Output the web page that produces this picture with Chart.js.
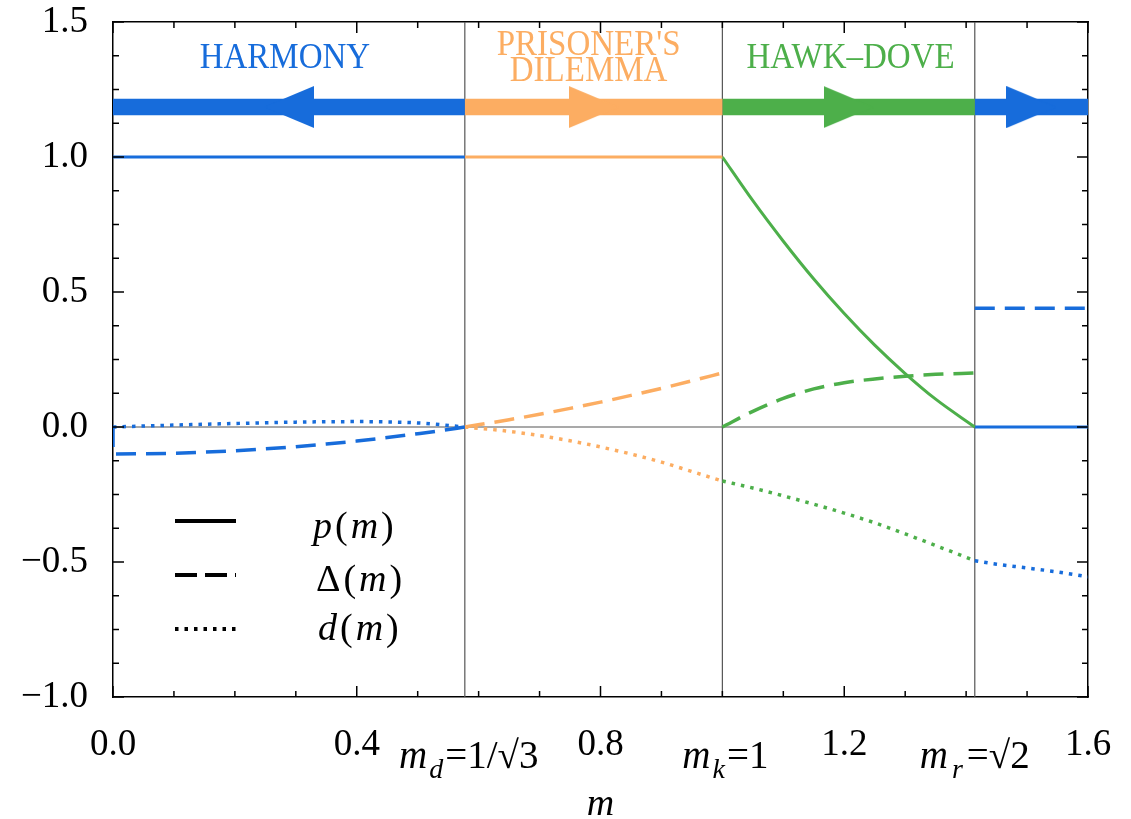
<!DOCTYPE html>
<html><head><meta charset="utf-8">
<script src="https://cdn.jsdelivr.net/npm/chart.js@4.4.1/dist/chart.umd.min.js"></script>
<style>html,body{margin:0;padding:0;background:#fff;}canvas{display:block;}</style>
</head><body>
<canvas id="c" width="1131" height="819" style="width:1131px;height:819px"></canvas>
<script>
const BLUE = '#176CDB', ORANGE = '#FCAD62', GREEN = '#4DAF4A';
const FONT = '"Liberation Serif", "Times New Roman", serif';

// special points on the m axis
const M_D = 0.57735, M_K = 1, M_R = 1.41421;

// tick labels
const xTickValues = [0, 0.4, 0.8, 1.2, 1.6];
const yTickValues = [-1, -0.5, 0, 0.5, 1, 1.5];

// region bands (arrows row)
const bandEdges = [0, M_D, M_K, M_R, 1.6];
const bandColors = [BLUE, ORANGE, GREEN, BLUE];
const bandY = 1.185;
const arrowX = [0.289, 0.789, 1.207, 1.507];
const arrowDir = [-1, 1, 1, 1];

// HARMONY (0 .. m_d)
const harmPX = [0, M_D];
const harmP = [1, 1];
const harmDeltaX = [0, 0, 0.05, 0.1, 0.15, 0.2, 0.25, 0.3, 0.35, 0.4, 0.45, 0.5, 0.54, M_D];
const harmDelta = [0, -0.1, -0.099, -0.097, -0.093, -0.088, -0.081, -0.073, -0.063, -0.052, -0.039, -0.025, -0.013, 0];
const harmDX = [0, 0.1, 0.2, 0.3, 0.4, 0.5, M_D];
const harmD = [0, 0.007, 0.013, 0.018, 0.02, 0.015, 0];

// PRISONER'S DILEMMA (m_d .. 1)
const pdX = [M_D, 0.65, 0.7, 0.75, 0.8, 0.85, 0.9, 0.95, 1.0];
const pdP = [1, 1, 1, 1, 1, 1, 1, 1, 1];
const pdDelta = [0, 0.027, 0.047, 0.069, 0.092, 0.117, 0.143, 0.171, 0.2];
const pdD = [0, -0.016, -0.032, -0.051, -0.074, -0.1, -0.13, -0.165, -0.2];

// HAWK-DOVE (1 .. m_r)
const hdX = [1, 1.05, 1.1, 1.15, 1.2, 1.25, 1.3, 1.35, M_R];
const hdP = [1, 0.838, 0.688, 0.548, 0.42, 0.303, 0.198, 0.103, 0];
const hdDelta = [0, 0.058, 0.106, 0.141, 0.164, 0.178, 0.188, 0.195, 0.2];
const hdD = [-0.2, -0.226, -0.255, -0.286, -0.319, -0.355, -0.396, -0.439, -0.495];

// beyond m_r
const hiX = [M_R, 1.45, 1.5, 1.55, 1.6];
const hiP = [0, 0, 0, 0, 0];
const hiDelta = [0.44, 0.44, 0.44, 0.44, 0.44];
const hiD = [-0.495, -0.508, -0.522, -0.537, -0.555];

const zip = (xs, ys) => xs.map((x, i) => ({x, y: ys[i]}));

function tri(color) {
  const c = document.createElement('canvas');
  c.width = 50; c.height = 42;
  const g = c.getContext('2d');
  g.fillStyle = color;
  g.beginPath(); g.moveTo(0, 0); g.lineTo(50, 21); g.lineTo(0, 42); g.closePath(); g.fill();
  return c;
}

const DASH = [20, 10], DOT = [3.5, 6];
function solid(data, color) { return {data, borderColor: color, borderWidth: 3, pointRadius: 0, fill: false, tension: 0.3}; }
function dashed(data, color) { return {data, borderColor: color, borderWidth: 3.5, borderDash: DASH, borderCapStyle: 'butt', pointRadius: 0, fill: false, tension: 0.3}; }
function dotted(data, color) { return {data, borderColor: color, borderWidth: 3.5, borderDash: DOT, borderCapStyle: 'butt', pointRadius: 0, fill: false, tension: 0.3}; }

function drawParts(ctx, parts, x, baseline, align, gap, size) {
  gap = gap || 0; size = size || 37;
  let w = 0;
  parts.forEach((p, i) => { ctx.font = (p.it ? 'italic ' : '') + (p.s || size) + 'px ' + FONT; p.w = ctx.measureText(p.t).width + (i < parts.length - 1 ? gap : 0); w += p.w; });
  let cx = align === 'center' ? x - w / 2 : x;
  ctx.textAlign = 'left'; ctx.textBaseline = 'alphabetic';
  parts.forEach(p => { ctx.font = (p.it ? 'italic ' : '') + (p.s || size) + 'px ' + FONT; ctx.fillText(p.t, cx, baseline + (p.dy || 0)); cx += p.w; });
}

function stretchedText(ctx, text, cx, baseline, sy) {
  ctx.save();
  ctx.translate(cx, baseline);
  ctx.scale(1, sy);
  ctx.fillText(text, 0, 0);
  ctx.restore();
}

const framePlugin = {
  id: 'frame',
  beforeDatasetsDraw(chart) {
    const {ctx, chartArea: a, scales: {x, y}} = chart;
    ctx.save();
    ctx.strokeStyle = '#555'; ctx.lineWidth = 1.2;
    [M_D, M_K, M_R].forEach(v => { const px = x.getPixelForValue(v); ctx.beginPath(); ctx.moveTo(px, a.top); ctx.lineTo(px, a.bottom); ctx.stroke(); });
    const py = y.getPixelForValue(0);
    ctx.beginPath(); ctx.moveTo(a.left, py); ctx.lineTo(a.right, py); ctx.stroke();
    ctx.restore();
  },
  afterDraw(chart) {
    const {ctx, chartArea: a, scales: {x, y}} = chart;
    ctx.save();
    ctx.strokeStyle = '#000'; ctx.lineWidth = 1.5;
    const seg = (x1, y1, x2, y2) => { ctx.beginPath(); ctx.moveTo(x1, y1); ctx.lineTo(x2, y2); ctx.stroke(); };
    for (let i = 0; i <= 16; i++) {
      const px = x.getPixelForValue(i / 10); const L = i % 4 === 0 ? 11 : 6;
      seg(px, a.bottom, px, a.bottom - L); seg(px, a.top, px, a.top + L);
    }
    for (let i = 0; i <= 20; i++) {
      const py = y.getPixelForValue(-1 + i * 0.125); const L = i % 4 === 0 ? 11 : 6;
      seg(a.left, py, a.left + L, py); seg(a.right, py, a.right - L, py);
    }
    // region names
    ctx.font = '33px ' + FONT; ctx.textAlign = 'center'; ctx.textBaseline = 'alphabetic';
    const mid = (i) => (x.getPixelForValue(bandEdges[i]) + x.getPixelForValue(bandEdges[i + 1])) / 2;
    ctx.fillStyle = BLUE; stretchedText(ctx, 'HARMONY', mid(0) - 4, 68, 1.1);
    ctx.fillStyle = ORANGE; stretchedText(ctx, "PRISONER'S", mid(1) - 5, 55, 1.1); stretchedText(ctx, 'DILEMMA', mid(1) - 5, 81, 1.1);
    ctx.fillStyle = GREEN; stretchedText(ctx, 'HAWK\u2013DOVE', mid(2) + 2, 68, 1.1);
    // special x labels
    ctx.fillStyle = '#000';
    drawParts(ctx, [{t: 'm', it: true}, {t: 'd', it: true, s: 28, dy: 10}, {t: '=1/\u221A3'}], x.getPixelForValue(M_D) + 4, 768, 'center', 2, 39);
    drawParts(ctx, [{t: 'm', it: true}, {t: 'k', it: true, s: 28, dy: 10}, {t: '=1'}], x.getPixelForValue(M_K) + 3, 768, 'center', 2, 39);
    drawParts(ctx, [{t: 'm', it: true}, {t: 'r', it: true, s: 28, dy: 10}, {t: '=\u221A2'}], x.getPixelForValue(M_R), 768, 'center', 4, 39);
    drawParts(ctx, [{t: 'm', it: true}], (a.left + a.right) / 2, 815, 'center', 0, 38);
    // legend
    const rows = [
      {y: 521, dash: [], parts: [{t: 'p', it: true}, {t: '('}, {t: 'm', it: true}, {t: ')'}], tx: 313, base: 538},
      {y: 575, dash: [22, 8], parts: [{t: '\u0394'}, {t: '('}, {t: 'm', it: true}, {t: ')'}], tx: 316, base: 591},
      {y: 629, dash: [3.5, 6], parts: [{t: 'd', it: true}, {t: '('}, {t: 'm', it: true}, {t: ')'}], tx: 318, base: 640}
    ];
    rows.forEach(r => {
      ctx.strokeStyle = '#000'; ctx.lineWidth = 4; ctx.lineCap = 'butt';
      ctx.setLineDash(r.dash); seg(175, r.y, 236, r.y); ctx.setLineDash([]);
      ctx.fillStyle = '#000'; drawParts(ctx, r.parts, r.tx, r.base, 'left', 3, 38);
    });
    ctx.restore();
  }
};

function noPad(s) { s.paddingTop = 0; s.paddingBottom = 0; s.paddingLeft = 0; s.paddingRight = 0; }

function build() {
  const datasets = [];
  datasets.push({
    data: zip(arrowX, arrowX.map(() => bandY)), showLine: false,
    pointStyle: bandColors.map(c => tri(c)), rotation: arrowDir.map(d => d < 0 ? 180 : 0),
    pointRadius: 20, pointHoverRadius: 20, borderWidth: 0, order: 0
  });
  for (let i = 0; i < 4; i++) {
    datasets.push({data: [{x: bandEdges[i], y: bandY}, {x: bandEdges[i + 1], y: bandY}], borderColor: bandColors[i], borderWidth: 16.5, borderCapStyle: 'butt', pointRadius: 0, order: 1});
  }
  datasets.push(solid(zip(harmPX, harmP), BLUE), dashed(zip(harmDeltaX, harmDelta), BLUE), dotted(zip(harmDX, harmD), BLUE));
  datasets.push(solid(zip(pdX, pdP), ORANGE), dashed(zip(pdX, pdDelta), ORANGE), dotted(zip(pdX, pdD), ORANGE));
  datasets.push(solid(zip(hdX, hdP), GREEN), dashed(zip(hdX, hdDelta), GREEN), dotted(zip(hdX, hdD), GREEN));
  datasets.push(solid(zip(hiX, hiP), BLUE), dashed(zip(hiX, hiDelta), BLUE), dotted(zip(hiX, hiD), BLUE));
  datasets.forEach(d => { if (d.order === undefined) d.order = 2; if (d.tension !== undefined) d.cubicInterpolationMode = 'monotone'; });

  const axisFont = {family: FONT, size: 37};
  new Chart(document.getElementById('c'), {
    type: 'line',
    data: {datasets},
    options: {
      animation: false, responsive: false, devicePixelRatio: 1,
      layout: {padding: {left: 0, top: 22, right: 43, bottom: 0}},
      plugins: {legend: {display: false}, tooltip: {enabled: false}},
      events: [],
      scales: {
        x: {
          type: 'linear', position: 'bottom', min: 0, max: 1.6,
          afterBuildTicks: s => { s.ticks = xTickValues.map(v => ({value: v})); },
          ticks: {font: axisFont, color: '#000', padding: 26, maxRotation: 0, autoSkip: false, callback: v => v.toFixed(1)},
          grid: {display: false, drawTicks: false},
          border: {display: true, color: '#000', width: 1.5},
          afterFit: s => { s.height = 122; noPad(s); }
        },
        x2: {
          type: 'linear', position: 'top', min: 0, max: 1.6,
          ticks: {display: false}, grid: {display: false, drawTicks: false},
          border: {display: true, color: '#000', width: 1.5},
          afterFit: s => { s.height = 0; noPad(s); }
        },
        y: {
          type: 'linear', position: 'left', min: -1, max: 1.5,
          afterBuildTicks: s => { s.ticks = yTickValues.map(v => ({value: v})); },
          ticks: {font: axisFont, color: '#000', padding: 25, callback: v => (v < 0 ? '\u2212' : '') + Math.abs(v).toFixed(1)},
          grid: {display: false, drawTicks: false},
          border: {display: true, color: '#000', width: 1.5},
          afterFit: s => { s.width = 113; noPad(s); }
        },
        y2: {
          type: 'linear', position: 'right', min: -1, max: 1.5,
          ticks: {display: false}, grid: {display: false, drawTicks: false},
          border: {display: true, color: '#000', width: 1.5},
          afterFit: s => { s.width = 0; noPad(s); }
        }
      }
    },
    plugins: [framePlugin]
  });
}

Promise.all([
  document.fonts.load('37px "Liberation Serif"'),
  document.fonts.load('italic 37px "Liberation Serif"')
]).then(build, build);
</script>
</body></html>
